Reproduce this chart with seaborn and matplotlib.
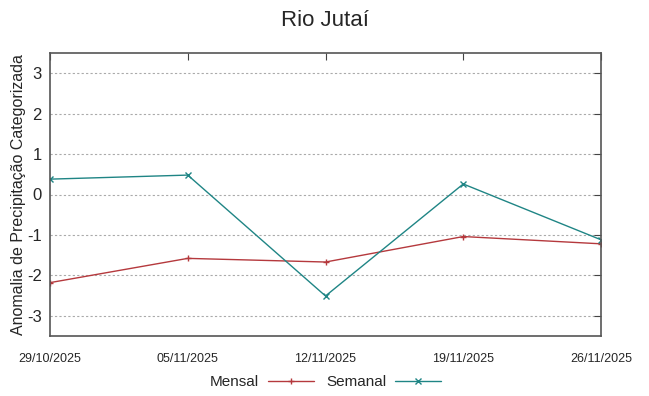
import matplotlib
matplotlib.use('Agg')
import matplotlib.pyplot as plt
import seaborn as sns
import pandas as pd

dates = ['29/10/2025', '05/11/2025', '12/11/2025', '19/11/2025', '26/11/2025']
mensal = [-2.18, -1.58, -1.67, -1.04, -1.22]
semanal = [0.38, 0.48, -2.51, 0.26, -1.12]

df = pd.DataFrame({
    'data': list(range(len(dates))) * 2,
    'valor': mensal + semanal,
    'serie': ['Mensal'] * len(dates) + ['Semanal'] * len(dates),
})

sns.set_style('white')
plt.rcParams['font.family'] = ['Liberation Sans', 'DejaVu Sans']
plt.rcParams['axes.unicode_minus'] = False

fig = plt.figure(figsize=(6.49, 3.96), dpi=100)
ax = fig.add_axes([50 / 649, 60 / 396, 551 / 649, 283 / 396])

cores = {'Mensal': '#b5393d', 'Semanal': '#1f8585'}
sns.lineplot(data=df, x='data', y='valor', hue='serie', style='serie',
             palette=cores, markers={'Mensal': '+', 'Semanal': 'x'}, dashes=False,
             markersize=5, markeredgewidth=1.0, linewidth=1.0, ax=ax)
for ln in ax.lines:
    ln.set_markeredgecolor(ln.get_color())

ax.set_xlim(0, len(dates) - 1)
ax.set_ylim(-3.5, 3.5)
ax.set_xticks(range(len(dates)))
ax.set_xticklabels(dates, fontsize=9)
ax.set_yticks([-3, -2, -1, 0, 1, 2, 3])
ax.tick_params(axis='y', labelsize=12, direction='in', length=5, right=True, pad=6, color='#444444')
ax.tick_params(axis='x', direction='in', length=5, top=True, pad=12, color='#444444')
ax.grid(axis='y', linestyle=(0, (2, 2)), color='#aaaaaa', linewidth=0.8)
for s in ax.spines.values():
    s.set_color('#555555')
    s.set_linewidth(1.2)

ax.set_xlabel('')
ax.set_ylabel('Anomalia de Precipitação Categorizada', fontsize=11.5)
ax.yaxis.set_label_coords(-0.044, 0.5)
fig.suptitle('Rio Jutaí', fontsize=16, y=0.975)

handles, labels = ax.get_legend_handles_labels()
for h in handles:
    h.set_markeredgecolor(h.get_color())
ax.legend(handles, labels, loc='center', bbox_to_anchor=(0.5, -0.163), ncol=2,
          frameon=False, markerfirst=False, fontsize=11, handlelength=3.0,
          columnspacing=0.8, handletextpad=0.6)

fig.savefig('out.png', dpi=100)
